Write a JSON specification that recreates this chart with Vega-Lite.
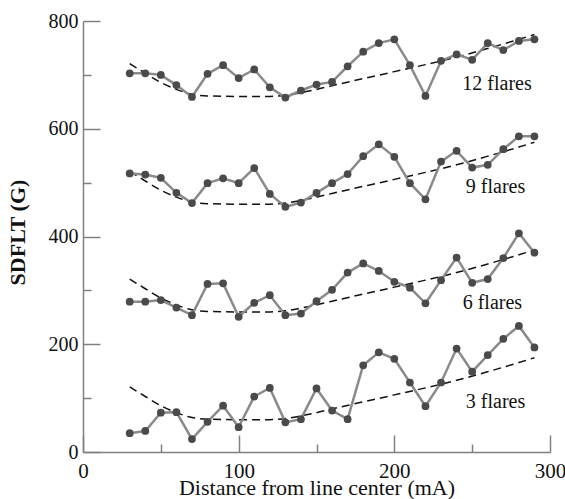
{
  "$schema": "https://vega.github.io/schema/vega-lite/v6.json",
  "width": 467,
  "height": 431,
  "autosize": "none",
  "padding": {"left": 83, "top": 21, "right": 15, "bottom": 47},
  "background": "white",
  "config": {
    "view": {"stroke": null},
    "axis": {
      "grid": false,
      "domainColor": "#808080",
      "domainWidth": 1.5,
      "tickColor": "#808080",
      "tickWidth": 1.5,
      "labelFont": "Liberation Serif",
      "labelFontSize": 20,
      "labelColor": "#111111",
      "titleFont": "Liberation Serif",
      "titleColor": "#111111",
      "titleFontWeight": "normal"
    }
  },
  "datasets": {
    "obs": [
      {"series": "12", "x": 30, "y": 703}, {"series": "12", "x": 40, "y": 703}, {"series": "12", "x": 50, "y": 700}, {"series": "12", "x": 60, "y": 681}, {"series": "12", "x": 70, "y": 659}, {"series": "12", "x": 80, "y": 702}, {"series": "12", "x": 90, "y": 718}, {"series": "12", "x": 100, "y": 694}, {"series": "12", "x": 110, "y": 710}, {"series": "12", "x": 120, "y": 677}, {"series": "12", "x": 130, "y": 658}, {"series": "12", "x": 140, "y": 671}, {"series": "12", "x": 150, "y": 682}, {"series": "12", "x": 160, "y": 687}, {"series": "12", "x": 170, "y": 716}, {"series": "12", "x": 180, "y": 743}, {"series": "12", "x": 190, "y": 759}, {"series": "12", "x": 200, "y": 766}, {"series": "12", "x": 210, "y": 718}, {"series": "12", "x": 220, "y": 661}, {"series": "12", "x": 230, "y": 726}, {"series": "12", "x": 240, "y": 738}, {"series": "12", "x": 250, "y": 728}, {"series": "12", "x": 260, "y": 759}, {"series": "12", "x": 270, "y": 746}, {"series": "12", "x": 280, "y": 763}, {"series": "12", "x": 290, "y": 766},
      {"series": "9", "x": 30, "y": 517}, {"series": "9", "x": 40, "y": 515}, {"series": "9", "x": 50, "y": 509}, {"series": "9", "x": 60, "y": 481}, {"series": "9", "x": 70, "y": 462}, {"series": "9", "x": 80, "y": 499}, {"series": "9", "x": 90, "y": 508}, {"series": "9", "x": 100, "y": 499}, {"series": "9", "x": 110, "y": 527}, {"series": "9", "x": 120, "y": 479}, {"series": "9", "x": 130, "y": 455}, {"series": "9", "x": 140, "y": 463}, {"series": "9", "x": 150, "y": 481}, {"series": "9", "x": 160, "y": 499}, {"series": "9", "x": 170, "y": 516}, {"series": "9", "x": 180, "y": 549}, {"series": "9", "x": 190, "y": 571}, {"series": "9", "x": 200, "y": 548}, {"series": "9", "x": 210, "y": 499}, {"series": "9", "x": 220, "y": 469}, {"series": "9", "x": 230, "y": 539}, {"series": "9", "x": 240, "y": 559}, {"series": "9", "x": 250, "y": 528}, {"series": "9", "x": 260, "y": 533}, {"series": "9", "x": 270, "y": 562}, {"series": "9", "x": 280, "y": 586}, {"series": "9", "x": 290, "y": 586},
      {"series": "6", "x": 30, "y": 279}, {"series": "6", "x": 40, "y": 279}, {"series": "6", "x": 50, "y": 282}, {"series": "6", "x": 60, "y": 268}, {"series": "6", "x": 70, "y": 254}, {"series": "6", "x": 80, "y": 312}, {"series": "6", "x": 90, "y": 313}, {"series": "6", "x": 100, "y": 251}, {"series": "6", "x": 110, "y": 277}, {"series": "6", "x": 120, "y": 291}, {"series": "6", "x": 130, "y": 254}, {"series": "6", "x": 140, "y": 257}, {"series": "6", "x": 150, "y": 280}, {"series": "6", "x": 160, "y": 301}, {"series": "6", "x": 170, "y": 333}, {"series": "6", "x": 180, "y": 350}, {"series": "6", "x": 190, "y": 336}, {"series": "6", "x": 200, "y": 316}, {"series": "6", "x": 210, "y": 305}, {"series": "6", "x": 220, "y": 276}, {"series": "6", "x": 230, "y": 319}, {"series": "6", "x": 240, "y": 361}, {"series": "6", "x": 250, "y": 314}, {"series": "6", "x": 260, "y": 321}, {"series": "6", "x": 270, "y": 360}, {"series": "6", "x": 280, "y": 406}, {"series": "6", "x": 290, "y": 370},
      {"series": "3", "x": 30, "y": 35}, {"series": "3", "x": 40, "y": 39}, {"series": "3", "x": 50, "y": 73}, {"series": "3", "x": 60, "y": 74}, {"series": "3", "x": 70, "y": 24}, {"series": "3", "x": 80, "y": 56}, {"series": "3", "x": 90, "y": 86}, {"series": "3", "x": 100, "y": 46}, {"series": "3", "x": 110, "y": 103}, {"series": "3", "x": 120, "y": 119}, {"series": "3", "x": 130, "y": 55}, {"series": "3", "x": 140, "y": 61}, {"series": "3", "x": 150, "y": 118}, {"series": "3", "x": 160, "y": 77}, {"series": "3", "x": 170, "y": 61}, {"series": "3", "x": 180, "y": 161}, {"series": "3", "x": 190, "y": 185}, {"series": "3", "x": 200, "y": 173}, {"series": "3", "x": 210, "y": 129}, {"series": "3", "x": 220, "y": 85}, {"series": "3", "x": 230, "y": 129}, {"series": "3", "x": 240, "y": 192}, {"series": "3", "x": 250, "y": 149}, {"series": "3", "x": 260, "y": 180}, {"series": "3", "x": 270, "y": 210}, {"series": "3", "x": 280, "y": 234}, {"series": "3", "x": 290, "y": 194}
    ],
    "fit": [
      {"series": "12", "x": 30, "y": 721}, {"series": "12", "x": 40, "y": 703}, {"series": "12", "x": 50, "y": 686}, {"series": "12", "x": 60, "y": 673}, {"series": "12", "x": 70, "y": 664}, {"series": "12", "x": 80, "y": 661}, {"series": "12", "x": 100, "y": 660}, {"series": "12", "x": 120, "y": 660}, {"series": "12", "x": 130, "y": 662}, {"series": "12", "x": 140, "y": 667}, {"series": "12", "x": 150, "y": 673}, {"series": "12", "x": 160, "y": 680}, {"series": "12", "x": 180, "y": 693}, {"series": "12", "x": 200, "y": 706}, {"series": "12", "x": 220, "y": 719}, {"series": "12", "x": 240, "y": 733}, {"series": "12", "x": 260, "y": 749}, {"series": "12", "x": 280, "y": 766}, {"series": "12", "x": 290, "y": 775},
      {"series": "9", "x": 30, "y": 521}, {"series": "9", "x": 40, "y": 503}, {"series": "9", "x": 50, "y": 486}, {"series": "9", "x": 60, "y": 473}, {"series": "9", "x": 70, "y": 464}, {"series": "9", "x": 80, "y": 461}, {"series": "9", "x": 100, "y": 460}, {"series": "9", "x": 120, "y": 460}, {"series": "9", "x": 130, "y": 462}, {"series": "9", "x": 140, "y": 467}, {"series": "9", "x": 150, "y": 473}, {"series": "9", "x": 160, "y": 480}, {"series": "9", "x": 180, "y": 493}, {"series": "9", "x": 200, "y": 506}, {"series": "9", "x": 220, "y": 519}, {"series": "9", "x": 240, "y": 533}, {"series": "9", "x": 260, "y": 549}, {"series": "9", "x": 280, "y": 566}, {"series": "9", "x": 290, "y": 575},
      {"series": "6", "x": 30, "y": 321}, {"series": "6", "x": 40, "y": 303}, {"series": "6", "x": 50, "y": 286}, {"series": "6", "x": 60, "y": 273}, {"series": "6", "x": 70, "y": 264}, {"series": "6", "x": 80, "y": 261}, {"series": "6", "x": 100, "y": 260}, {"series": "6", "x": 120, "y": 260}, {"series": "6", "x": 130, "y": 262}, {"series": "6", "x": 140, "y": 267}, {"series": "6", "x": 150, "y": 273}, {"series": "6", "x": 160, "y": 280}, {"series": "6", "x": 180, "y": 293}, {"series": "6", "x": 200, "y": 306}, {"series": "6", "x": 220, "y": 319}, {"series": "6", "x": 240, "y": 333}, {"series": "6", "x": 260, "y": 349}, {"series": "6", "x": 280, "y": 366}, {"series": "6", "x": 290, "y": 375},
      {"series": "3", "x": 30, "y": 121}, {"series": "3", "x": 40, "y": 103}, {"series": "3", "x": 50, "y": 86}, {"series": "3", "x": 60, "y": 73}, {"series": "3", "x": 70, "y": 64}, {"series": "3", "x": 80, "y": 61}, {"series": "3", "x": 100, "y": 60}, {"series": "3", "x": 120, "y": 60}, {"series": "3", "x": 130, "y": 62}, {"series": "3", "x": 140, "y": 67}, {"series": "3", "x": 150, "y": 73}, {"series": "3", "x": 160, "y": 80}, {"series": "3", "x": 180, "y": 93}, {"series": "3", "x": 200, "y": 106}, {"series": "3", "x": 220, "y": 119}, {"series": "3", "x": 240, "y": 133}, {"series": "3", "x": 260, "y": 149}, {"series": "3", "x": 280, "y": 166}, {"series": "3", "x": 290, "y": 175}
    ],
    "labels": [
      {"x": 266, "y": 683, "text": "12 flares"},
      {"x": 265, "y": 491, "text": "9 flares"},
      {"x": 263, "y": 276, "text": "6 flares"},
      {"x": 265, "y": 93, "text": "3 flares"}
    ]
  },
  "encoding": {
    "x": {
      "field": "x", "type": "quantitative",
      "scale": {"domain": [0, 300], "nice": false, "zero": false},
      "axis": {
        "title": "Distance from line center (mA)",
        "titleFontSize": 22,
        "titleBaseline": "alphabetic",
        "titleY": 42,
        "values": [0, 50, 100, 150, 200, 250, 300],
        "labelExpr": "datum.value % 100 === 0 ? datum.label : ''",
        "tickSize": {"condition": {"test": "datum.value % 100 === 0", "value": -17}, "value": -8},
        "labelPadding": 25,
        "labelFontSize": 21,
        "labelFlush": false,
        "labelOverlap": false
      }
    },
    "y": {
      "field": "y", "type": "quantitative",
      "scale": {"domain": [0, 800], "nice": false},
      "axis": {
        "title": "SDFLT (G)",
        "titleFontSize": 22,
        "titleFontWeight": "bold",
        "titlePadding": 19,
        "titleY": 211,
        "values": [0, 100, 200, 300, 400, 500, 600, 700, 800],
        "labelExpr": "datum.value % 200 === 0 ? datum.label : ''",
        "tickSize": {"condition": {"test": "datum.value % 200 === 0", "value": -17}, "value": -8},
        "labelPadding": 22,
        "labelFlush": false,
        "labelOverlap": false
      }
    }
  },
  "layer": [
    {
      "data": {"name": "fit"},
      "mark": {"type": "line", "color": "#111111", "strokeWidth": 1.5, "strokeDash": [8, 5], "interpolate": "monotone"},
      "encoding": {"detail": {"field": "series"}}
    },
    {
      "data": {"name": "obs"},
      "mark": {"type": "line", "color": "#8a8a8a", "strokeWidth": 2.5},
      "encoding": {"detail": {"field": "series"}}
    },
    {
      "data": {"name": "obs"},
      "mark": {"type": "point", "filled": true, "color": "#4a4a4a", "size": 60, "opacity": 1},
      "encoding": {"detail": {"field": "series"}}
    },
    {
      "data": {"name": "labels"},
      "mark": {"type": "text", "font": "Liberation Serif", "fontSize": 20, "color": "#111111", "align": "center", "baseline": "middle"},
      "encoding": {"text": {"field": "text"}}
    }
  ]
}
